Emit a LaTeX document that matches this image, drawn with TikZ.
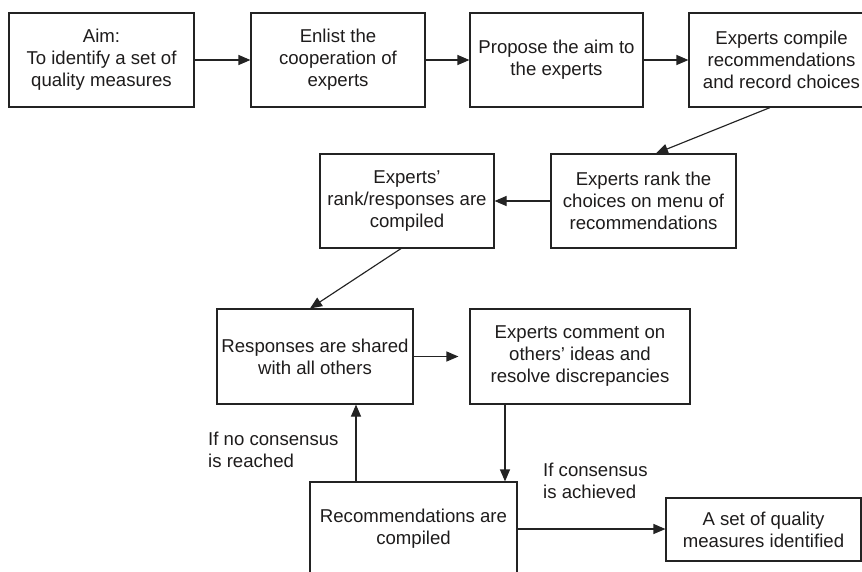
\documentclass[tikz,border=0pt]{standalone}
\usepackage{fontspec}
\setmainfont{Liberation Sans}
\usetikzlibrary{arrows.meta,calc}
\definecolor{linec}{RGB}{35,35,35}
\definecolor{textc}{RGB}{30,28,28}
\begin{document}
\begin{tikzpicture}[x=1pt,y=-1pt,
  box/.style={draw=linec, line width=1.15pt, minimum width=#1, minimum height=94pt, inner sep=0pt, align=center, text=textc, font=\fontsize{18.6}{22}\selectfont},
  lbl/.style={inner sep=0pt, align=left, text=textc, font=\fontsize{18.6}{22}\selectfont, anchor=west},
  conn/.style={draw=linec, line width=1.15pt, -{Triangle[length=12pt,width=10pt]}}]
\clip (0,0) rectangle (862,571);
\fill[white] (0,0) rectangle (862,571);
\node[box=185] (aim) at (101.5,60) {Aim:\\To identify a set of\\quality measures};
\node[box=174] (enlist) at (338,60) {Enlist the\\cooperation of\\experts};
\node[box=173] (propose) at (556.5,60) {Propose the aim to\\the experts};
\node[box=185] (compile) at (781.5,60) {Experts compile\\recommendations\\and record choices};
\node[box=185] (rank) at (643.5,201) {Experts rank the\\choices on menu of\\recommendations};
\node[box=174] (ranked) at (407,201) {Experts'\\rank/responses are\\compiled};
\node[box=196, minimum height=95pt] (shared) at (315,356.5) {Responses are shared\\with all others};
\node[box=220, minimum height=95pt] (comment) at (580,356.5) {Experts comment on\\others' ideas and\\resolve discrepancies};
\node[box=207] (recs) at (413.5,529) {Recommendations are\\compiled};
\node[box=195, minimum height=63pt] (final) at (763.5,529.5) {A set of quality\\measures identified};
\node[lbl] (nolbl) at (208,450) {If no consensus\\is reached};
\node[lbl] (yeslbl) at (543,481) {If consensus\\is achieved};
\draw[conn] (aim.east) -- (enlist.west);
\draw[conn] (enlist.east) -- (propose.west);
\draw[conn] (propose.east) -- (compile.west);
\draw[conn] ($(compile.south)+(-11.5,0)$) -- ($(rank.north)+(12.5,0)$);
\draw[conn] (rank.west) -- (ranked.east);
\draw[conn] ($(ranked.south)+(-6,0)$) -- ($(shared.north)+(-5,0)$);
\draw[conn, shorten >=11pt] (shared.east) -- (comment.west);
\coordinate (c1) at ($(comment.south)+(-75,0)$);
\draw[conn] (c1) -- (c1 |- recs.north);
\coordinate (c2) at ($(recs.north)+(-57.5,0)$);
\draw[conn] (c2) -- (c2 |- shared.south);
\draw[conn] (recs.east) -- (recs.east -| final.west);
\end{tikzpicture}
\end{document}
